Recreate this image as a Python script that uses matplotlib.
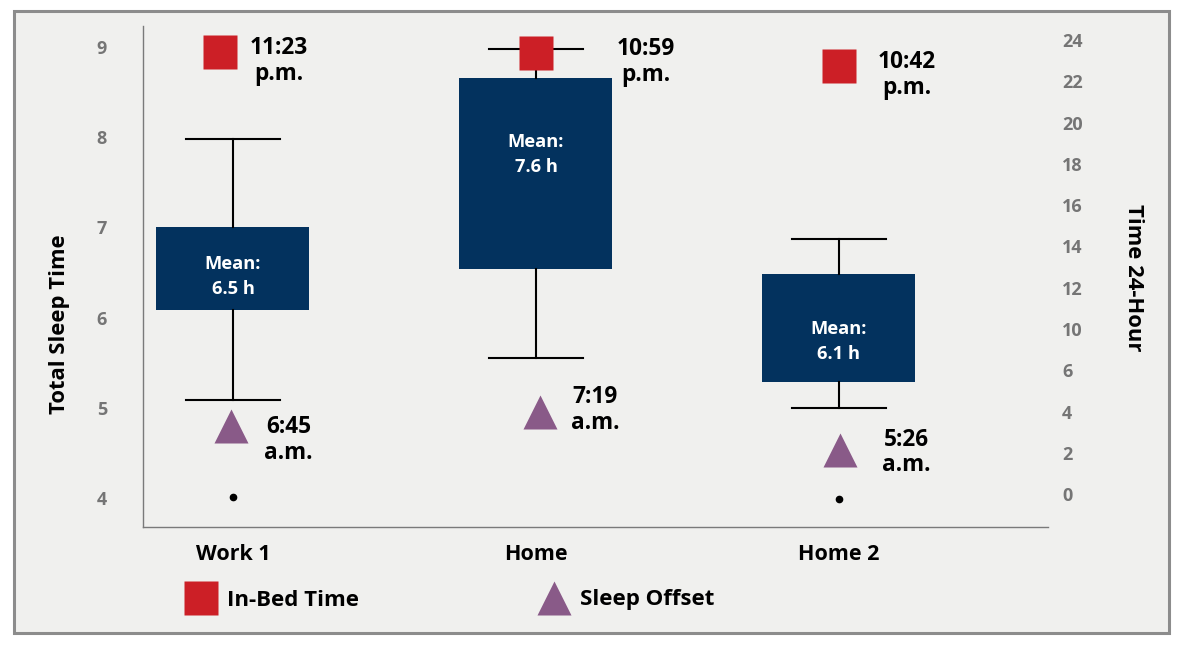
import matplotlib
matplotlib.use("Agg")
import matplotlib.pyplot as plt
from matplotlib.patches import Rectangle
from matplotlib.lines import Line2D
from matplotlib.transforms import ScaledTranslation

# ---------------- data ----------------
categories = ["Work 1", "Home", "Home 2"]
whisker_high = [7.98, 8.98, 6.87]
box_q3 = [7.00, 8.66, 6.48]
box_q1 = [6.08, 6.54, 5.29]
whisker_low = [5.09, 5.55, 5.00]
outliers = [[4.01], [], [3.99]]
mean_sleep = [6.5, 7.6, 6.1]

in_bed_pos = [23.42, 23.39, 22.76]          # right axis (as drawn)
in_bed_labels = ["11:23\np.m.", "10:59\np.m.", "10:42\np.m."]
offset_pos = [5.32, 5.97, 4.14]             # right axis (as drawn)
offset_labels = ["6:45\na.m.", "7:19\na.m.", "5:26\na.m."]

left_ticks = [4, 5, 6, 7, 8, 9]
right_tick_pos = [2, 4, 6, 8, 10, 12, 14, 16, 18, 20, 22, 24]
right_tick_labels = ["0", "2", "4", "6", "10", "12", "14", "16", "18", "20", "22", "24"]

# ---------------- style ----------------
FONT = "Open Sans"
NAVY = "#03325e"
RED = "#cc1f26"
PURPLE = "#895a88"
BG = "#f0f0ee"
TICKGRAY = "#757575"
W, H = 1184, 652
PX = 0.72  # points per pixel at dpi 100

plt.rcParams["font.family"] = [FONT, "DejaVu Sans"]
plt.rcParams["font.weight"] = "bold"

fig = plt.figure(figsize=(W / 100, H / 100), dpi=100, facecolor="white")
fig.patches.append(Rectangle((13.5 / W, 1 - 632.5 / H), (1168.5 - 13.5) / W, (632.5 - 10.5) / H,
                             transform=fig.transFigure, facecolor=BG, edgecolor="#8c8c8c",
                             linewidth=2.2, zorder=-10))

ax = fig.add_axes([143 / W, 1 - 527 / H, (1048 - 143) / W, (527 - 26) / H])
ax.set_facecolor("none")
ax2 = ax.twinx()

pos = list(range(len(categories)))
stats = []
for i in pos:
    stats.append(dict(med=mean_sleep[i], q1=box_q1[i], q3=box_q3[i],
                      whislo=whisker_low[i], whishi=whisker_high[i], fliers=outliers[i]))
ax.bxp(stats, positions=pos, widths=0.505, capwidths=0.31, patch_artist=True,
       showfliers=True,
       boxprops=dict(facecolor=NAVY, edgecolor=NAVY, linewidth=0),
       whiskerprops=dict(color="black", linewidth=1.5),
       capprops=dict(color="black", linewidth=1.5),
       medianprops=dict(linewidth=0),
       flierprops=dict(marker="o", markerfacecolor="black", markeredgecolor="black", markersize=4.5))

# Mean labels inside boxes (positions in left-axis units)
mean_label_y = [6.456, 7.81, 5.73]
for i in pos:
    ax.text(pos[i], mean_label_y[i], "Mean:\n%.1f h" % mean_sleep[i], color="white",
            ha="center", va="center", fontsize=13.2, fontweight="bold", linespacing=1.5, zorder=5)

ax.set_xlim(-0.297, 2.69)
ax.set_ylim(3.678, 9.233)
ax2.set_ylim(0.405, 24.68)

ax.set_xticks(pos)
ax.set_xticklabels(categories, fontsize=15.5, fontweight="bold", color="black")
ax.tick_params(axis="x", length=0, pad=12)
ax.set_yticks(left_ticks)
ax.set_yticklabels([str(t) for t in left_ticks], fontsize=13, fontweight="bold", color=TICKGRAY)
ax.tick_params(axis="y", length=0, pad=26)
ax2.set_yticks(right_tick_pos)
ax2.set_yticklabels(right_tick_labels, fontsize=13, fontweight="bold", color=TICKGRAY)
ax2.tick_params(axis="y", length=0, pad=10)

for a in (ax, ax2):
    for s in ("top", "right"):
        a.spines[s].set_visible(False)
ax2.spines["left"].set_visible(False)
ax2.spines["bottom"].set_visible(False)
ax.spines["left"].set_color("#7a7a7a")
ax.spines["bottom"].set_color("#7a7a7a")
ax.spines["left"].set_linewidth(1.0)
ax.spines["bottom"].set_linewidth(1.0)

# markers (small horizontal pixel shifts as drawn in the reference)
bed_dx = [-13, 0, 0]
off_dx = [-2, 4, 1]
for i in pos:
    tr = ax2.transData + ScaledTranslation(bed_dx[i] / 100, 0, fig.dpi_scale_trans)
    ax2.plot([pos[i]], [in_bed_pos[i]], linestyle="none", marker="s", markersize=24,
             markerfacecolor=RED, markeredgecolor="none", zorder=6, transform=tr)
    tr2 = ax2.transData + ScaledTranslation(off_dx[i] / 100, 0, fig.dpi_scale_trans)
    ax2.plot([pos[i]], [offset_pos[i]], linestyle="none", marker="^", markersize=24,
             markerfacecolor=PURPLE, markeredgecolor="none", zorder=6, transform=tr2)

bed_off = [(46, 9), (110, 9.5), (67.5, 9.5)]
off_off = [(55.5, 14.5), (59, -2.5), (67.5, 2.5)]
for i in pos:
    ax2.annotate(in_bed_labels[i], xy=(pos[i], in_bed_pos[i]),
                 xytext=(bed_off[i][0] * PX, -bed_off[i][1] * PX), textcoords="offset points",
                 ha="center", va="center", multialignment="center", fontsize=16.3,
                 fontweight="bold", color="black", linespacing=1.1)
    ax2.annotate(offset_labels[i], xy=(pos[i], offset_pos[i]),
                 xytext=(off_off[i][0] * PX, -off_off[i][1] * PX), textcoords="offset points",
                 ha="center", va="center", multialignment="center", fontsize=16.3,
                 fontweight="bold", color="black", linespacing=1.1)

fig.text(60 / W, 1 - 324 / H, "Total Sleep Time", rotation=90, ha="center", va="center",
         fontsize=15.8, fontweight="bold", color="black")
fig.text(1133 / W, 1 - 278 / H, "Time 24-Hour", rotation=-90, ha="center", va="center",
         fontsize=15.8, fontweight="bold", color="black")

handles = [Line2D([], [], linestyle="none", marker="s", markersize=24, markerfacecolor=RED,
                  markeredgecolor="none", label="In-Bed Time"),
           Line2D([], [], linestyle="none", marker="^", markersize=24, markerfacecolor=PURPLE,
                  markeredgecolor="none", label="Sleep Offset")]
fig.legend(handles=handles, loc="center left", bbox_to_anchor=(184 / W, 1 - 600 / H),
           ncol=2, frameon=False, handlelength=1.5, handletextpad=0.45,
           columnspacing=8.0, borderpad=0, borderaxespad=0,
           prop=dict(family=[FONT, "DejaVu Sans"], weight="bold", size=16))

fig.savefig("out.png", dpi=100, facecolor="white")
